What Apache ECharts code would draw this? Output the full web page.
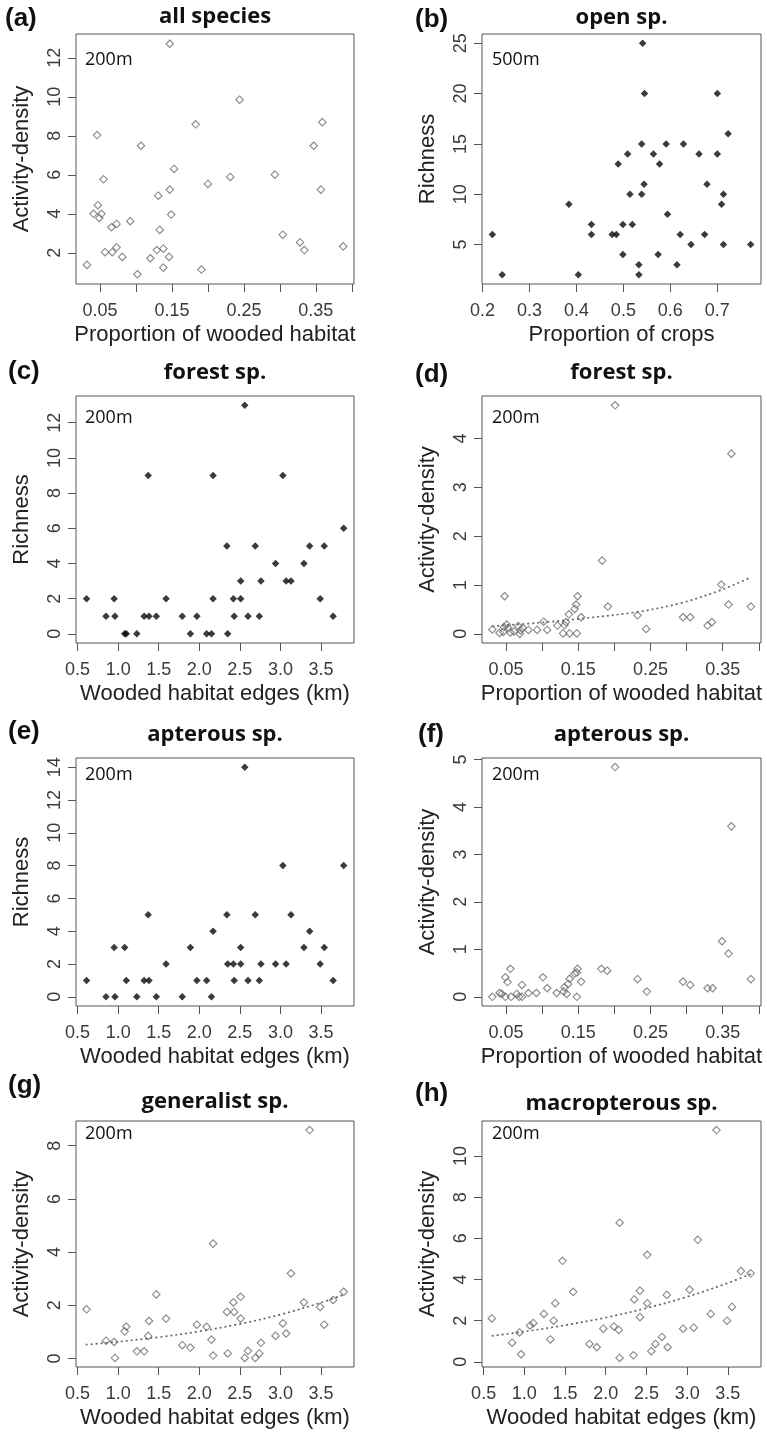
<!DOCTYPE html>
<html><head><meta charset="utf-8">
<script src="https://cdn.jsdelivr.net/npm/echarts@6/dist/echarts.min.js"></script>
<style>html,body{margin:0;padding:0;background:#fff}#c{width:767px;height:1435px}</style>
</head><body><div id="c"></div><script>
// ---------- data ----------
const aX = [0.032,0.041,0.046,0.047,0.049,0.052,0.055,0.057,0.067,0.066,0.073,0.073,0.081,0.092,0.102,0.107,0.120,0.129,0.131,0.133,0.138,0.138,0.146,0.147,0.147,0.149,0.153,0.183,0.191,0.200,0.231,0.244,0.293,0.304,0.328,0.334,0.347,0.357,0.359,0.388];
const aY = [1.38,4.00,8.04,4.44,3.79,4.00,5.77,2.03,2.03,3.31,3.48,2.28,1.79,3.62,0.90,7.49,1.72,2.14,4.93,3.17,2.21,1.24,1.79,12.72,5.24,3.96,6.30,8.59,1.14,5.53,5.89,9.85,6.01,2.93,2.53,2.14,7.49,5.24,8.70,2.33];

const bX = [0.221,0.242,0.384,0.404,0.432,0.432,0.476,0.485,0.489,0.499,0.499,0.509,0.514,0.519,0.533,0.533,0.539,0.539,0.541,0.544,0.545,0.564,0.574,0.577,0.591,0.594,0.614,0.621,0.628,0.644,0.661,0.673,0.678,0.700,0.700,0.709,0.713,0.713,0.723,0.771];
const bY = [6,2,9,2,7,6,6,6,13,7,4,14,10,7,3,2,15,10,25,11,20,14,4,13,15,8,3,6,15,5,14,6,11,20,14,9,10,5,16,5];

const cX = [0.61,0.85,0.95,0.96,1.08,1.10,1.23,1.32,1.37,1.38,1.47,1.59,1.79,1.89,1.97,2.09,2.15,2.17,2.17,2.34,2.35,2.42,2.43,2.51,2.51,2.56,2.60,2.69,2.76,2.74,2.94,3.03,3.07,3.13,3.29,3.36,3.49,3.54,3.65,3.78];
const cY = [2,1,2,1,0,0,0,1,9,1,1,2,1,0,1,0,0,9,2,5,0,2,1,3,2,13,1,5,3,1,4,9,3,3,4,5,2,5,1,6];

const dX = [0.031,0.041,0.046,0.047,0.048,0.051,0.053,0.056,0.061,0.067,0.069,0.070,0.073,0.081,0.093,0.102,0.107,0.121,0.129,0.131,0.133,0.137,0.138,0.145,0.147,0.148,0.149,0.154,0.183,0.191,0.201,0.232,0.244,0.295,0.305,0.329,0.335,0.348,0.358,0.362,0.389];
const dY = [0.09,0.02,0.04,0.14,0.77,0.19,0.12,0.03,0.05,0.16,0.00,0.07,0.12,0.08,0.08,0.25,0.08,0.17,0.01,0.18,0.24,0.40,0.01,0.51,0.60,0.01,0.77,0.34,1.50,0.56,4.68,0.38,0.10,0.34,0.34,0.17,0.24,1.01,0.60,3.69,0.56];
const dTrendX = [0.031,0.102,0.153,0.232,0.292,0.348,0.389];
const dTrendY = [0.155,0.235,0.31,0.45,0.63,0.90,1.16];

const eX = [0.61,0.85,0.95,0.96,1.08,1.10,1.23,1.32,1.37,1.38,1.47,1.59,1.79,1.89,1.97,2.09,2.15,2.17,2.34,2.35,2.42,2.43,2.51,2.51,2.56,2.60,2.69,2.76,2.74,2.94,3.03,3.07,3.13,3.29,3.36,3.49,3.54,3.65,3.78];
const eY = [1,0,3,0,3,1,0,1,5,1,0,2,0,3,1,1,0,4,5,2,2,1,3,2,14,1,5,2,1,2,8,2,5,3,4,2,3,1,8];

const fX = [0.031,0.041,0.044,0.049,0.049,0.052,0.056,0.057,0.065,0.068,0.072,0.072,0.081,0.092,0.101,0.107,0.120,0.130,0.131,0.134,0.136,0.138,0.145,0.148,0.149,0.148,0.154,0.182,0.190,0.201,0.232,0.245,0.295,0.305,0.329,0.336,0.349,0.358,0.362,0.389];
const fY = [0.00,0.08,0.06,0.41,0.00,0.31,0.59,0.00,0.06,0.00,0.25,0.00,0.08,0.08,0.41,0.18,0.08,0.11,0.20,0.06,0.27,0.38,0.49,0.51,0.59,0.00,0.32,0.59,0.55,4.84,0.37,0.11,0.32,0.25,0.18,0.18,1.17,0.91,3.59,0.37];

const gX = [0.61,0.85,0.95,0.96,1.08,1.10,1.23,1.32,1.37,1.38,1.47,1.59,1.79,1.89,1.97,2.09,2.15,2.17,2.17,2.34,2.35,2.42,2.43,2.51,2.51,2.56,2.60,2.69,2.76,2.74,2.94,3.03,3.07,3.13,3.29,3.36,3.49,3.54,3.65,3.78];
const gY = [1.85,0.67,0.62,0.02,1.02,1.20,0.27,0.27,0.85,1.41,2.41,1.50,0.50,0.41,1.27,1.19,0.71,4.32,0.11,1.75,0.19,2.11,1.75,2.32,1.50,0.02,0.29,0.02,0.59,0.19,0.85,1.32,0.94,3.20,2.11,8.59,1.94,1.27,2.20,2.51];
const gTrendX = [0.6,1.0,1.5,2.0,2.5,3.0,3.5,3.78];
const gTrendY = [0.52,0.63,0.80,1.02,1.30,1.65,2.10,2.40];

const hX = [0.60,0.85,0.94,0.96,1.07,1.11,1.24,1.32,1.36,1.38,1.47,1.60,1.80,1.89,1.97,2.10,2.16,2.17,2.17,2.35,2.34,2.42,2.42,2.51,2.51,2.56,2.61,2.69,2.75,2.76,2.95,3.03,3.08,3.13,3.29,3.36,3.49,3.55,3.66,3.78];
const hY = [2.11,0.93,1.43,0.37,1.77,1.88,2.33,1.09,2.00,2.85,4.91,3.40,0.87,0.71,1.61,1.72,1.55,6.76,0.19,3.03,0.32,3.46,2.17,5.20,2.85,0.52,0.87,1.21,3.25,0.71,1.61,3.51,1.66,5.93,2.33,11.26,2.00,2.67,4.41,4.30];
const hTrendX = [0.6,1.0,1.5,2.0,2.5,3.0,3.5,3.78];
const hTrendY = [1.26,1.47,1.78,2.15,2.61,3.16,3.83,4.27];

// ---------- tick values ----------
const tickProp = [0.05,0.10,0.15,0.20,0.25,0.30,0.35,0.40];
const labelProp = [0.05,0.15,0.25,0.35];
const tickCrops = [0.2,0.3,0.4,0.5,0.6,0.7];
const tickEdges = [0.5,1.0,1.5,2.0,2.5,3.0,3.5];
const yTicksA = [2,4,6,8,10,12];
const yTicksB = [5,10,15,20,25];
const yTicksC = [0,2,4,6,8,10,12];
const yTicksD = [0,1,2,3,4];
const yTicksE = [0,2,4,6,8,10,12,14];
const yTicksF = [0,1,2,3,4,5];
const yTicksG = [0,2,4,6,8];
const yTicksH = [0,2,4,6,8,10];

// ---------- text ----------
const panelLetters = ['(a)','(b)','(c)','(d)','(e)','(f)','(g)','(h)'];
const panelTitles = ['all species','open sp.','forest sp.','forest sp.','apterous sp.','apterous sp.','generalist sp.','macropterous sp.'];
const bufferLabels = ['200m','500m','200m','200m','200m','200m','200m','200m'];
const xNames = ['Proportion of wooded habitat','Proportion of crops','Wooded habitat edges (km)','Proportion of wooded habitat','Wooded habitat edges (km)','Proportion of wooded habitat','Wooded habitat edges (km)','Wooded habitat edges (km)'];
const yNames = ['Activity-density','Richness','Richness','Activity-density','Richness','Activity-density','Activity-density','Activity-density'];

// ---------- layout ----------
const colL = [76, 278], colR = [482, 279];
const rows = [[34,250],[396,247],[758,248],[1121,246]];
const zip = (xs, ys) => xs.map((x, i) => [x, ys[i]]);
const f2 = v => v.toFixed(2), f1 = v => v.toFixed(1), f0 = v => String(Math.round(v));

const panels = [
  {xs:aX, ys:aY, xr:[0.0167,0.403], yr:[0.40,13.22], xt:tickProp, xl:labelProp, xf:f2, yt:yTicksA, filled:false},
  {xs:bX, ys:bY, xr:[0.199,0.793], yr:[1.08,25.92], xt:tickCrops, xl:tickCrops, xf:f1, yt:yTicksB, filled:true},
  {xs:cX, ys:cY, xr:[0.48,3.907], yr:[-0.52,13.52], xt:tickEdges, xl:tickEdges, xf:f1, yt:yTicksC, filled:true},
  {xs:dX, ys:dY, xr:[0.0167,0.403], yr:[-0.187,4.87], xt:tickProp, xl:labelProp, xf:f2, yt:yTicksD, filled:false, tx:dTrendX, ty:dTrendY},
  {xs:eX, ys:eY, xr:[0.48,3.907], yr:[-0.56,14.56], xt:tickEdges, xl:tickEdges, xf:f1, yt:yTicksE, filled:true},
  {xs:fX, ys:fY, xr:[0.0167,0.403], yr:[-0.194,5.03], xt:tickProp, xl:labelProp, xf:f2, yt:yTicksF, filled:false},
  {xs:gX, ys:gY, xr:[0.48,3.907], yr:[-0.32,8.93], xt:tickEdges, xl:tickEdges, xf:f1, yt:yTicksG, filled:false, tx:gTrendX, ty:gTrendY},
  {xs:hX, ys:hY, xr:[0.48,3.907], yr:[-0.25,11.70], xt:tickEdges, xl:tickEdges, xf:f1, yt:yTicksH, filled:false, tx:hTrendX, ty:hTrendY}
];

const letterPos = [[5,19],[415,20],[8,372],[415,375],[8,732],[418,735],[8,1086],[415,1094]];
const titleY = [17,17.5,372.5,373,735,735,1102,1104];
const bufPos = [[85,60],[492,60],[85,418],[492,418],[85,775],[492,775],[85,1134],[492,1134]];

const grid = [], xAxis = [], yAxis = [], series = [], graphic = [];
const tickColor = '#555', labColor = '#3a3a3a', axFont = '"Liberation Sans", Arial, sans-serif';

panels.forEach((p, i) => {
  const col = i % 2 === 0 ? colL : colR;
  const row = rows[Math.floor(i / 2)];
  grid.push({left: col[0], top: row[0], width: col[1], height: row[1], show: true,
    borderColor: '#555', borderWidth: 1, backgroundColor: 'transparent', containLabel: false, outerBoundsMode: 'none'});
  xAxis.push({type: 'value', gridIndex: i, min: p.xr[0], max: p.xr[1],
    axisLine: {show: false, onZero: false},
    axisTick: {show: true, length: 8, customValues: p.xt, lineStyle: {color: tickColor, width: 1}},
    axisLabel: {show: true, customValues: p.xl, margin: 18, fontSize: 18, fontFamily: axFont, color: labColor, formatter: p.xf},
    splitLine: {show: false},
    name: xNames[i], nameLocation: 'middle', nameGap: 40,
    nameTextStyle: {fontSize: 22, fontFamily: axFont, color: '#222'}});
  yAxis.push({type: 'value', gridIndex: i, min: p.yr[0], max: p.yr[1],
    axisLine: {show: false, onZero: false},
    axisTick: {show: true, length: 8, customValues: p.yt, lineStyle: {color: tickColor, width: 1}},
    axisLabel: {show: true, customValues: p.yt, rotate: 90, margin: 12, fontSize: 18, fontFamily: axFont, color: labColor, formatter: f0},
    splitLine: {show: false},
    name: yNames[i], nameLocation: 'middle', nameRotate: 90, nameGap: 43,
    nameTextStyle: {fontSize: 22, fontFamily: axFont, color: '#222'}});
  series.push({type: 'scatter', xAxisIndex: i, yAxisIndex: i, data: zip(p.xs, p.ys),
    symbol: 'diamond', symbolSize: p.filled ? 7.5 : 7.5,
    itemStyle: p.filled ? {color: '#0a0a0a', borderWidth: 0} : {color: 'rgba(255,255,255,0)', borderColor: '#6a6a6a', borderWidth: 1.1},
    emphasis: {disabled: true}, silent: true});
  if (p.tx) {
    series.push({type: 'line', xAxisIndex: i, yAxisIndex: i, data: zip(p.tx, p.ty), smooth: 0.35,
      showSymbol: false, symbol: 'none', silent: true,
      lineStyle: {color: '#666', width: 1.7, type: [2, 3]}, z: 3});
  }
  const cx = col[0] + col[1] / 2;
  graphic.push({type: 'text', x: letterPos[i][0], y: letterPos[i][1],
    style: {text: panelLetters[i], fill: '#111', font: 'bold 26px "Liberation Sans", Arial, sans-serif',
      textAlign: 'left', textVerticalAlign: 'middle', align: 'left', verticalAlign: 'middle'}});
  graphic.push({type: 'text', x: cx, y: titleY[i],
    style: {text: panelTitles[i], fill: '#111', font: 'bold 22px "Open Sans", sans-serif',
      textAlign: 'center', textVerticalAlign: 'middle', align: 'center', verticalAlign: 'middle'}});
  graphic.push({type: 'text', x: bufPos[i][0], y: bufPos[i][1], z: 10,
    style: {text: bufferLabels[i], fill: '#111', font: '18px "Open Sans", sans-serif',
      textAlign: 'left', textVerticalAlign: 'middle', align: 'left', verticalAlign: 'middle'}});
});

const chart = echarts.init(document.getElementById('c'), null, {renderer: 'canvas'});
chart.setOption({animation: false, backgroundColor: '#fff', grid, xAxis, yAxis, series, graphic});
</script></body></html>
